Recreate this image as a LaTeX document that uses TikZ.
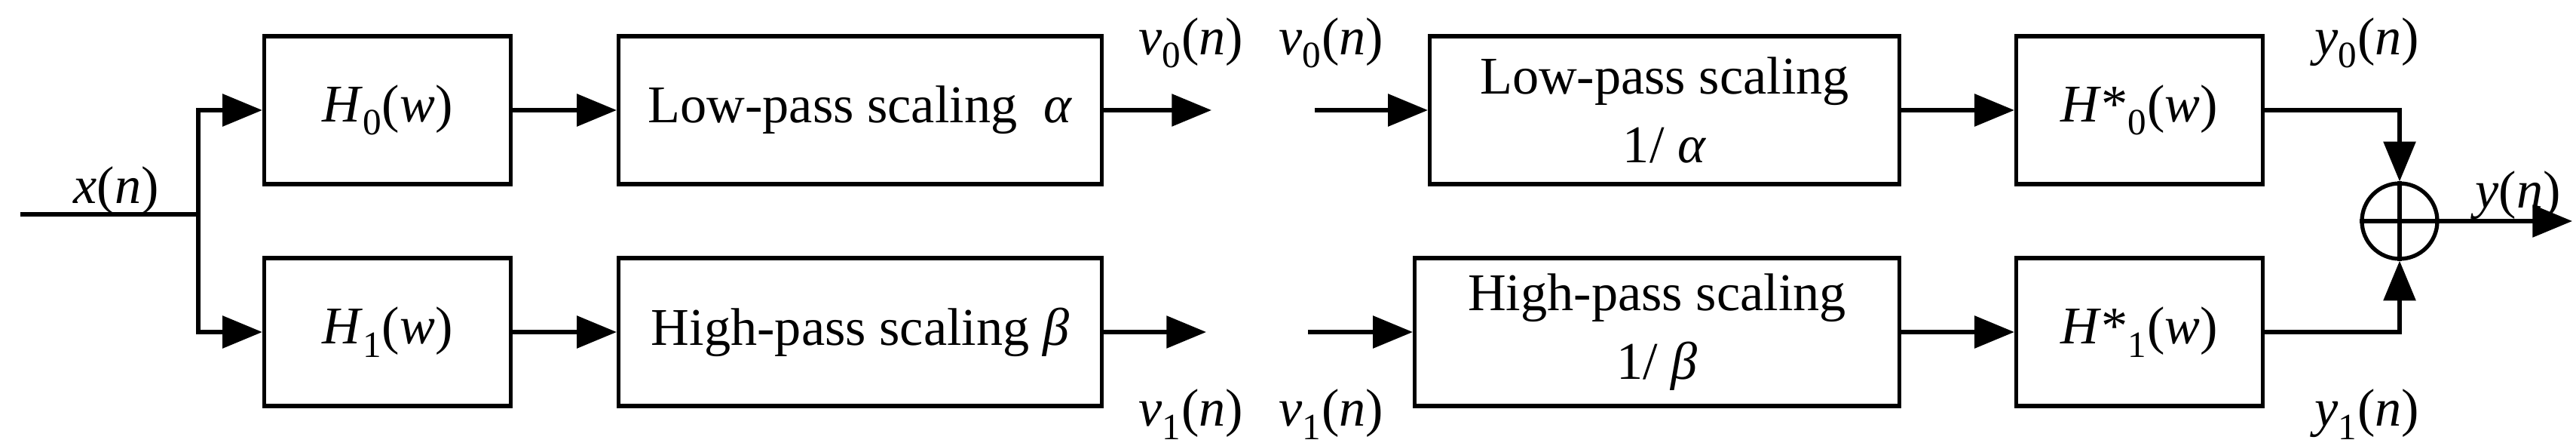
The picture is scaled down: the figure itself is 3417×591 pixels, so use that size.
\documentclass[tikz,border=0pt]{standalone}
\usepackage{fontspec}
\setmainfont{Liberation Serif}
\usetikzlibrary{arrows.meta,positioning}
\tikzset{block/.style={draw, line width=3pt, minimum height=3.92cm, align=center, font=\fontsize{40}{52}\selectfont}}
\tikzset{filt/.style={block, minimum width=6.54cm}}
\tikzset{sig/.style={font=\fontsize{40}{48}\selectfont}}
\tikzset{flow/.style={line width=3pt, -{Triangle[length=30pt,width=24pt]}}}
\newcommand{\iv}[1]{\textit{#1}}

\begin{document}
\begin{tikzpicture}[x=0.02cm,y=-0.02cm]
\useasboundingbox (0,0) rectangle (3417,591);

%% analysis side
\node[filt] (h0) at (514,146) {\iv{H}\textsubscript{0}(\iv{w})};
\node[filt] (h1) at (514,440) {\iv{H}\textsubscript{1}(\iv{w})};
\node[block, minimum width=12.82cm] (lp) at (1141,146) {Low-pass scaling~~\iv{α}};
\node[block, minimum width=12.82cm] (hp) at (1141,440) {High-pass scaling \iv{β}};

%% synthesis side
\node[block, minimum width=12.46cm] (lpi) at (2208,146) {Low-pass scaling\\1/ \iv{α}};
\node[block, minimum width=12.86cm] (hpi) at (2198,440) {High-pass scaling\\1/ \iv{β}};
\node[filt] (g0) at (2838,146) {\iv{H}*\textsubscript{0}(\iv{w})};
\node[filt] (g1) at (2838,440) {\iv{H}*\textsubscript{1}(\iv{w})};
\node[draw, circle, line width=3pt, minimum size=2cm, inner sep=0pt] (sum) at (3183,293) {};
\draw[line width=3pt] (sum.north) -- (sum.south) (sum.west) -- (sum.east);

\coordinate (xin) at (27,284);
\coordinate (br) at (263,284);
\coordinate (v0o) at (1607,146);
\coordinate (v1o) at (1600,440);
\coordinate (v0i) at (1744,146);
\coordinate (v1i) at (1735,440);
\coordinate (yout) at (3412,293);

%% labels
\node[sig] (lx) at (154,253) {\iv{x}(\iv{n})};
\node[sig] (lv0) at (1580,57) {\iv{v}\textsubscript{0}(\iv{n})};
\node[sig] (lv1) at (1580,549) {\iv{v}\textsubscript{1}(\iv{n})};
\node[sig] (lv0b) at (1766,57) {\iv{v}\textsubscript{0}(\iv{n})};
\node[sig] (lv1b) at (1766,549) {\iv{v}\textsubscript{1}(\iv{n})};
\node[sig] (ly0) at (3140,57) {\iv{y}\textsubscript{0}(\iv{n})};
\node[sig] (ly1) at (3140,549) {\iv{y}\textsubscript{1}(\iv{n})};
\node[sig] (ly) at (3340,259) {\iv{y}(\iv{n})};

\draw[line width=3pt] (xin) -- (br);
\draw[flow] (br) |- (h0.west);
\draw[flow] (br) |- (h1.west);
\draw[flow] (h0) -- (lp);
\draw[flow] (h1) -- (hp);
\draw[flow] (lp.east) -- (v0o);
\draw[flow] (hp.east) -- (v1o);
\draw[flow] (v0i) -- (lpi.west);
\draw[flow] (v1i) -- (hpi.west);
\draw[flow] (lpi) -- (g0);
\draw[flow] (hpi) -- (g1);
\draw[flow] (g0.east) -| (sum.north);
\draw[flow] (g1.east) -| (sum.south);
\draw[flow] (sum.east) -- (yout);

\end{tikzpicture}
\end{document}
